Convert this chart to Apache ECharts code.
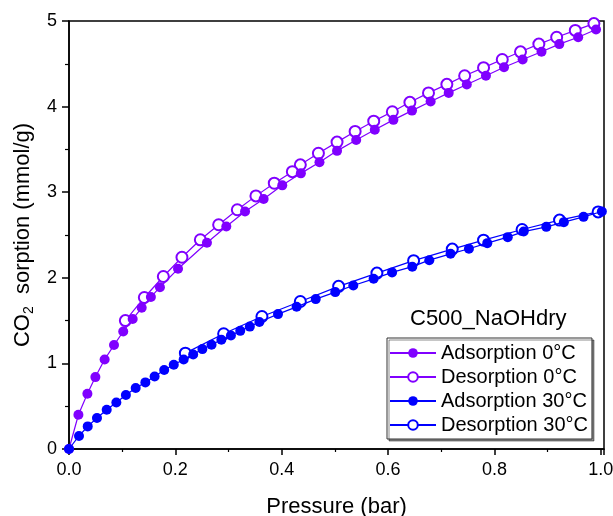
<!DOCTYPE html>
<html>
<head>
<meta charset="utf-8">
<script src="https://cdn.jsdelivr.net/npm/echarts@6/dist/echarts.min.js"></script>
<style>
html,body{margin:0;padding:0;background:#fff;}
#chart{width:613px;height:516px;}
</style>
</head>
<body>
<div id="chart"></div>
<script>
var FONT = "'Liberation Sans', Arial, sans-serif";

var chartTitle = 'C500_NaOHdry';
var seriesNames = ['Adsorption 0°C', 'Desorption 0°C', 'Adsorption 30°C', 'Desorption 30°C'];
var xTicks = [0, 0.2, 0.4, 0.6, 0.8, 1.0];
var yTicks = [0, 1, 2, 3, 4, 5];

var ads0 = [[0,0],[0.0177,0.40],[0.0346,0.646],[0.0496,0.84],[0.067,1.046],[0.0846,1.214],[0.102,1.373],[0.1197,1.518],[0.1367,1.65],[0.154,1.775],[0.171,1.89],[0.205,2.105],[0.2594,2.41],[0.2958,2.60],[0.331,2.775],[0.366,2.92],[0.401,3.08],[0.436,3.22],[0.471,3.35],[0.504,3.483],[0.540,3.61],[0.575,3.73],[0.610,3.845],[0.645,3.953],[0.680,4.06],[0.714,4.16],[0.748,4.258],[0.784,4.36],[0.818,4.46],[0.853,4.55],[0.8885,4.64],[0.922,4.73],[0.9575,4.81],[0.991,4.90]];

var des0 = [[0.987,4.97],[0.952,4.89],[0.917,4.81],[0.8835,4.73],[0.849,4.64],[0.8147,4.55],[0.7795,4.455],[0.744,4.36],[0.7105,4.26],[0.676,4.16],[0.641,4.05],[0.608,3.94],[0.573,3.83],[0.538,3.71],[0.504,3.585],[0.469,3.455],[0.435,3.32],[0.42,3.24],[0.386,3.105],[0.3515,2.957],[0.3165,2.795],[0.2814,2.62],[0.247,2.444],[0.2124,2.24],[0.1774,2.015],[0.1417,1.77],[0.106,1.50]];

var ads30 = [[0,0],[0.0188,0.152],[0.0352,0.264],[0.0526,0.362],[0.0709,0.459],[0.089,0.544],[0.107,0.630],[0.1254,0.712],[0.1436,0.778],[0.161,0.848],[0.179,0.922],[0.197,0.984],[0.2156,1.046],[0.2335,1.103],[0.2508,1.167],[0.268,1.218],[0.2865,1.276],[0.3045,1.326],[0.322,1.38],[0.340,1.43],[0.358,1.483],[0.393,1.576],[0.428,1.661],[0.464,1.751],[0.5007,1.833],[0.5346,1.91],[0.5728,1.988],[0.6075,2.063],[0.6455,2.13],[0.6775,2.206],[0.7175,2.28],[0.752,2.339],[0.7865,2.405],[0.825,2.475],[0.855,2.54],[0.8975,2.595],[0.9305,2.65],[0.9675,2.712],[1.002,2.774]];

var des30 = [[0.995,2.77],[0.9224,2.674],[0.852,2.564],[0.7795,2.44],[0.7207,2.335],[0.648,2.20],[0.579,2.055],[0.507,1.90],[0.435,1.723],[0.3628,1.548],[0.2908,1.346],[0.2188,1.12]];

var PURPLE = '#8000ff';
var BLUE = '#0000ff';

function mkSeries(name, data, color, filled, z) {
  return {
    name: name,
    type: 'line',
    data: data,
    z: z,
    symbol: filled ? 'circle' : 'emptyCircle',
    symbolSize: filled ? 10 : 11,
    showSymbol: true,
    clip: false,
    lineStyle: {color: color, width: 1.2},
    itemStyle: filled ? {color: color, borderWidth: 0} : {color: color, borderColor: color, borderWidth: 1},
    emphasis: {disabled: true}
  };
}

var chart = echarts.init(document.getElementById('chart'), null, {renderer: 'canvas'});
chart.setOption({
  animation: false,
  backgroundColor: '#fff',
  textStyle: {fontFamily: FONT},
  title: {
    text: chartTitle,
    left: 410, top: 308, padding: 0,
    textStyle: {fontSize: 22, fontWeight: 'normal', color: '#000', fontFamily: FONT}
  },
  grid: {left: 69, right: 9, top: 21, bottom: 67, containLabel: false, outerBoundsMode: 'none',
    show: true, borderColor: '#000', borderWidth: 1.5, backgroundColor: 'transparent'},
  legend: {
    orient: 'vertical',
    left: 387, top: 338,
    padding: [5, 4, 4, 2],
    itemWidth: 46, itemHeight: 12, itemGap: 4,
    backgroundColor: '#fff',
    borderColor: '#333', borderWidth: 1,
    shadowColor: 'rgba(0,0,0,0.45)', shadowOffsetX: 2, shadowOffsetY: 2, shadowBlur: 0,
    data: seriesNames,
    selectedMode: false,
    textStyle: {fontSize: 20, lineHeight: 20, color: '#000', fontFamily: FONT}
  },
  xAxis: {
    type: 'value', min: 0, max: 1.006, interval: 0.2,
    name: 'Pressure (bar)', nameLocation: 'middle', nameGap: 47,
    nameTextStyle: {fontSize: 22, color: '#000', fontFamily: FONT},
    axisLine: {show: true, lineStyle: {color: '#000', width: 1.5}},
    axisTick: {show: true, inside: false, length: 6, lineStyle: {color: '#000', width: 1.5}},
    minorTick: {show: true, splitNumber: 2, length: 3, lineStyle: {color: '#000', width: 1.2}},
    splitLine: {show: false},
    axisLabel: {fontSize: 18, color: '#000', margin: 12, fontFamily: FONT,
      formatter: function (v) { return xTicks.indexOf(Math.round(v*10)/10) >= 0 && v <= 1.0001 ? v.toFixed(1) : ''; }}
  },
  yAxis: {
    type: 'value', min: 0, max: 5, interval: 1,
    name: '{a|CO}{s|2}{a|  sorption (mmol/g)}', nameLocation: 'middle', nameGap: 29, nameRotate: 90,
    nameTextStyle: {fontSize: 22, color: '#000', fontFamily: FONT,
      rich: {
        a: {fontSize: 22, lineHeight: 26, verticalAlign: 'middle', color: '#000', fontFamily: FONT},
        s: {fontSize: 14, lineHeight: 14, verticalAlign: 'bottom', color: '#000', fontFamily: FONT}
      }},
    axisLine: {show: true, lineStyle: {color: '#000', width: 1.5}},
    axisTick: {show: true, inside: false, length: 7, lineStyle: {color: '#000', width: 1.5}},
    minorTick: {show: true, splitNumber: 2, length: 4, lineStyle: {color: '#000', width: 1.2}},
    splitLine: {show: false},
    axisLabel: {fontSize: 18, color: '#000', margin: 12, fontFamily: FONT,
      formatter: function (v) { return yTicks.indexOf(v) >= 0 ? String(v) : ''; }}
  },
  series: [
    mkSeries(seriesNames[1], des0, PURPLE, false, 2),
    mkSeries(seriesNames[3], des30, BLUE, false, 2),
    mkSeries(seriesNames[0], ads0, PURPLE, true, 3),
    mkSeries(seriesNames[2], ads30, BLUE, true, 3)
  ]
});
</script>
</body>
</html>
